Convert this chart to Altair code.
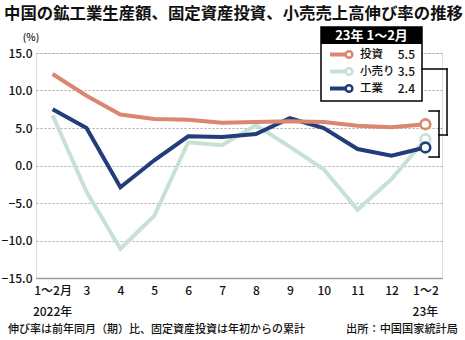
import altair as alt
import pandas as pd

# ---- data ----
months = ["1～2月", "3", "4", "5", "6", "7", "8", "9", "10", "11", "12", "1～2"]
investment = [12.2, 9.3, 6.8, 6.2, 6.1, 5.7, 5.8, 5.9, 5.8, 5.3, 5.1, 5.5]
retail = [6.7, -3.5, -11.1, -6.7, 3.1, 2.7, 5.4, 2.5, -0.5, -5.9, -1.8, 3.5]
industry = [7.5, 5.0, -2.9, 0.7, 3.9, 3.8, 4.2, 6.3, 5.0, 2.2, 1.3, 2.4]
series_names = ["投資", "小売り", "工業"]
series_values = [investment, retail, industry]
colors = ["#DB866E", "#C8E1D5", "#233D7B"]
y_ticks = [-15, -10, -5, 0, 5, 10, 15]
year_months = ["1～2月", "1～2"]
year_texts = ["2022年", "23年"]

FONT = "Noto Sans CJK JP"
W, H = 406, 225
PL, PT = 36, 53

rows = []
for name, vals in zip(series_names, series_values):
    for m, v in zip(months, vals):
        rows.append({"month": m, "value": v, "series": name})
df = pd.DataFrame(rows)
year_df = pd.DataFrame({"month": year_months, "label": year_texts})

xscale = alt.Scale(type="point", domain=months, padding=0.49)
yscale = alt.Scale(domain=[-15, 15], nice=False)
cscale = alt.Scale(domain=series_names, range=colors)

base = alt.Chart(df)

x_axis = alt.Axis(title=None, labelAngle=0, ticks=False, grid=False,
                  domainColor="#9a9a9a", domainWidth=1.5, labelFontSize=12,
                  labelPadding=7, labelColor="#111", labelFont=FONT, labelFontWeight=500)
y_axis = alt.Axis(title=None, values=y_ticks, format=".1f", domain=False, ticks=False,
                  grid=True, gridColor="#a8a8a8", gridDash=[2, 2], gridWidth=1,
                  labelFontSize=12, labelPadding=4, labelColor="#111", labelFont=FONT,
                  labelFontWeight=500)

X = alt.X("month:N", scale=xscale, sort=months, axis=x_axis)
Y = alt.Y("value:Q", scale=yscale, axis=y_axis)

layers = []
draw_order = ["小売り", "工業", "投資"]
for name in draw_order:
    line = base.transform_filter(alt.datum.series == name).mark_line(
        strokeWidth=4, strokeJoin="miter", strokeCap="butt"
    ).encode(x=X, y=Y, color=alt.Color("series:N", scale=cscale, legend=None))
    layers.append(line)
for name in draw_order:
    pt = base.transform_filter(
        (alt.datum.series == name) & (alt.datum.month == months[-1])
    ).mark_point(shape="circle", fill="white", fillOpacity=1, filled=False,
                 size=95, strokeWidth=2.6, opacity=1).encode(
        x=X, y=Y,
        stroke=alt.Stroke("series:N", scale=cscale, legend=None),
    )
    layers.append(pt)

# second row of x labels (years)
years = alt.Chart(year_df).mark_text(fontSize=12, font=FONT, fontWeight=500, color="#111",
                                     baseline="middle").encode(
    x=X,
    y=alt.value(259),
    text="label:N",
)
layers.append(years)

one = alt.Data(values=[{"a": 1}])


def txt(text, x, y, size, align="left", weight=500, color="#111"):
    return alt.Chart(one).mark_text(
        text=text, align=align, baseline="middle", fontSize=size, fontWeight=weight,
        font=FONT, color=color
    ).encode(x=alt.value(x), y=alt.value(y))


def rule(x, x2, y, y2, color="black", w=1.5):
    return alt.Chart(one).mark_rule(color=color, strokeWidth=w, strokeCap="square").encode(
        x=alt.value(x), x2=alt.value(x2), y=alt.value(y), y2=alt.value(y2))


def rect(x, x2, y, y2, fill, stroke=None, sw=0):
    kw = dict(fill=fill)
    if stroke:
        kw.update(stroke=stroke, strokeWidth=sw)
    return alt.Chart(one).mark_rect(**kw).encode(
        x=alt.value(x), x2=alt.value(x2), y=alt.value(y), y2=alt.value(y2))


# title / unit / footnotes
layers.append(txt("中国の鉱工業生産額、固定資産投資、小売売上高伸び率の推移", 4 - PL, 14 - PT, 16.4, weight="bold"))
layers.append(txt("(%)", 31 - PL, 38 - PT, 10, align="center"))
layers.append(txt("伸び率は前年同月（期）比、固定資産投資は年初からの累計", 8 - PL, 330 - PT, 11))
layers.append(txt("出所：中国国家統計局", 458 - PL, 330 - PT, 11.2, align="right"))

# legend box
bx0, bx1, by0, by1 = 321 - PL, 422 - PL, 27 - PT, 101 - PT
layers.append(rect(bx0, bx1, by0, by1, "white", "black", 1.5))
layers.append(rect(bx0, bx1, by0, 44 - PT, "black"))
layers.append(txt("23年 1～2月", (bx0 + bx1) / 2, 36 - PT, 13, align="center", weight="bold", color="white"))
row_y = [54.5 - PT, 71.5 - PT, 88.5 - PT]
for name, vals, col, ry in zip(series_names, series_values, colors, row_y):
    layers.append(alt.Chart(one).mark_rule(color=col, strokeWidth=4).encode(
        x=alt.value(330 - PL), x2=alt.value(347 - PL), y=alt.value(ry), y2=alt.value(ry)))
    layers.append(alt.Chart(one).mark_point(shape="circle", fill="white", fillOpacity=1,
                                            stroke=col, strokeWidth=2.5, size=45, opacity=1).encode(
        x=alt.value(349 - PL), y=alt.value(ry)))
    layers.append(txt(name, 360 - PL, ry, 11.5))
    layers.append(txt(f"{vals[-1]:.1f}", 415 - PL, ry, 12, align="right"))

# bracket connector
layers.append(rule(bx1, 447 - PL, 69 - PT, 69 - PT))
layers.append(rule(447 - PL, 447 - PL, 69 - PT, 135 - PT))
layers.append(rule(439 - PL, 447 - PL, 135 - PT, 135 - PT))
layers.append(rule(439 - PL, 439 - PL, 111 - PT, 157 - PT))
layers.append(rule(429 - PL, 439 - PL, 111 - PT, 111 - PT))
layers.append(rule(429 - PL, 439 - PL, 157 - PT, 157 - PT))

chart = alt.layer(*layers).properties(
    width=W, height=H,
    autosize=alt.AutoSizeParams(type="none"),
    padding={"left": PL, "top": PT, "right": 465 - PL - W, "bottom": 340 - PT - H},
    background="white",
).configure_view(stroke=None).configure(font=FONT)

chart.save("out.html", embed_options={"renderer": "svg", "actions": False})
